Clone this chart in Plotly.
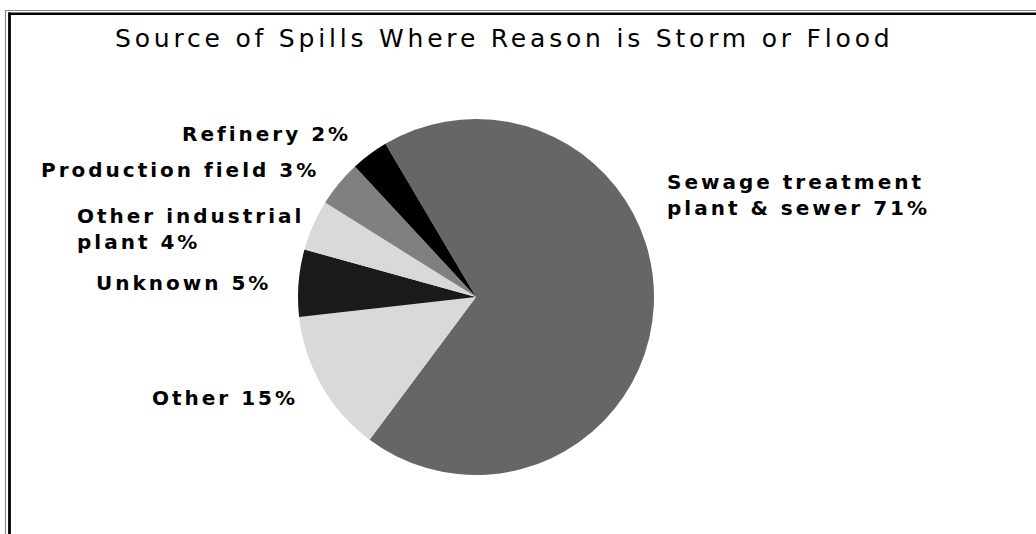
import plotly.graph_objects as go

W, H = 1036, 534

categories = ["Sewage treatment plant & sewer", "Other", "Unknown",
              "Other industrial plant", "Production field", "Refinery"]
values = [68.7, 13.0, 6.1, 4.6, 4.2, 3.4]
label_texts = ["Sewage treatment<br>plant & sewer 71%", "Other 15%", "Unknown 5%",
               "Other industrial<br>plant 4%", "Production field 3%", "Refinery 2%"]
colors = ["#666666", "#d9d9d9", "#1a1a1a", "#d9d9d9", "#808080", "#000000"]

title_text = "Source of Spills Where Reason is Storm or Flood"


def px(x):
    return x / W


def py(y):
    return 1 - y / H


fig = go.Figure()
fig.add_trace(go.Pie(
    labels=categories,
    values=values,
    sort=False,
    direction="clockwise",
    rotation=-30.6,
    marker=dict(colors=colors, line=dict(width=0)),
    textinfo="none",
    hoverinfo="skip",
    showlegend=False,
    domain=dict(x=[px(298), px(654)], y=[py(475), py(119)]),
))

LS = "letter-spacing:3px"
label_font = dict(family="DejaVu Sans, sans-serif", size=20, color="#000000")

# label placements: (x_px, y_px, xanchor, align)
placements = [
    (665, 195, "left", "left"),
    (300, 398, "right", "right"),
    (273, 283, "right", "right"),
    (75, 229, "left", "left"),
    (321, 170, "right", "right"),
    (353, 134, "right", "right"),
]

annotations = []
for txt, (x, y, xa, al) in zip(label_texts, placements):
    annotations.append(dict(
        text="<b><span style='%s'>%s</span></b>" % (LS, txt.replace("<br>", "</span><br><span style='%s'>" % LS)),
        x=px(x), y=py(y), xref="paper", yref="paper",
        xanchor=xa, yanchor="middle", align=al, showarrow=False,
        font=label_font,
    ))

annotations.append(dict(
    text="<span style='letter-spacing:3.8px'>%s</span>" % title_text,
    x=px(504), y=py(39), xref="paper", yref="paper",
    xanchor="center", yanchor="middle", showarrow=False,
    font=dict(family="DejaVu Sans, sans-serif", size=25, color="#000000"),
))

shapes = [
    dict(type="line", xref="paper", yref="paper", x0=px(5), x1=1, y0=py(10.5), y1=py(10.5),
         line=dict(color="#8a8a8a", width=1.2)),
    dict(type="line", xref="paper", yref="paper", x0=px(5.5), x1=px(5.5), y0=py(10), y1=0,
         line=dict(color="#8a8a8a", width=1.2)),
    dict(type="line", xref="paper", yref="paper", x0=px(8.5), x1=1, y0=py(13.8), y1=py(13.8),
         line=dict(color="#000000", width=2.5)),
    dict(type="line", xref="paper", yref="paper", x0=px(9.5), x1=px(9.5), y0=py(12.6), y1=0,
         line=dict(color="#000000", width=2.8)),
]

fig.update_layout(
    width=W, height=H,
    margin=dict(l=0, r=0, t=0, b=0),
    paper_bgcolor="#ffffff",
    plot_bgcolor="#ffffff",
    annotations=annotations,
    shapes=shapes,
)

fig.write_html("out.html")
